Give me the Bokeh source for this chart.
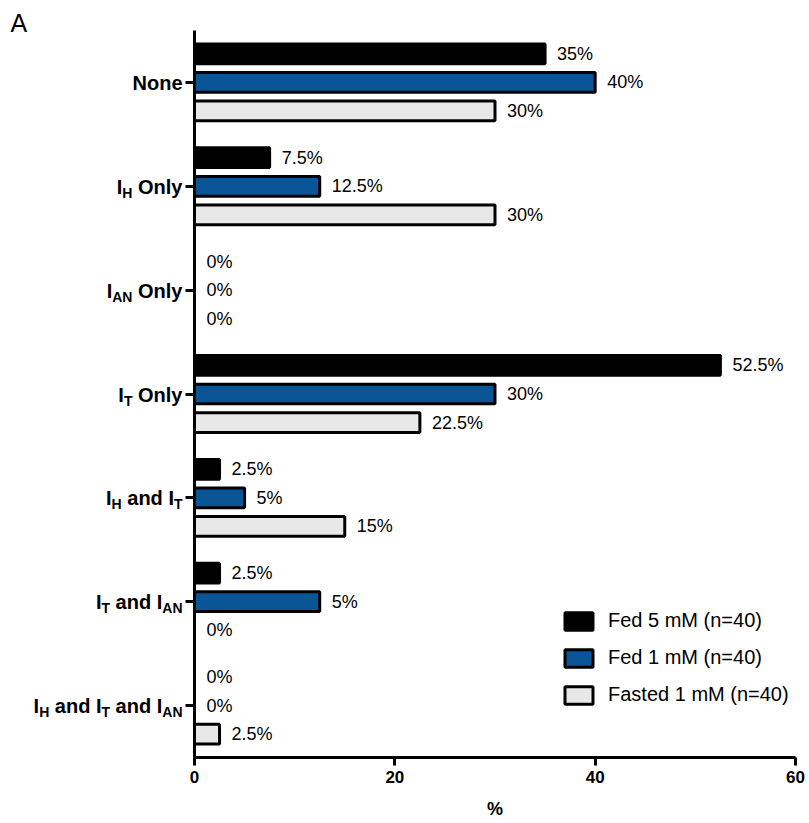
from bokeh.plotting import figure
from bokeh.models import Range1d, FixedTicker, ColumnDataSource, Legend, LegendItem
from bokeh.core.properties import value
from bokeh.embed import file_html
from bokeh.resources import INLINE

# ---------------- data ----------------
categories = ["None", "I_H Only", "I_AN Only", "I_T Only",
              "I_H and I_T", "I_T and I_AN", "I_H and I_T and I_AN"]
# tick label pieces: (text, is_subscript)
tick_segments = [
    [("None", False)],
    [("I", False), ("H", True), (" Only", False)],
    [("I", False), ("AN", True), (" Only", False)],
    [("I", False), ("T", True), (" Only", False)],
    [("I", False), ("H", True), (" and I", False), ("T", True)],
    [("I", False), ("T", True), (" and I", False), ("AN", True)],
    [("I", False), ("H", True), (" and I", False), ("T", True), (" and I", False), ("AN", True)],
]
series_names = ["Fed 5 mM (n=40)", "Fed 1 mM (n=40)", "Fasted 1 mM (n=40)"]
fed5 = [35, 7.5, 0, 52.5, 2.5, 2.5, 0]
fed1 = [40, 12.5, 0, 30, 5, 12.5, 0]
fasted = [30, 30, 0, 22.5, 15, 0, 2.5]
fed5_labels = ["35%", "7.5%", "0%", "52.5%", "2.5%", "2.5%", "0%"]
fed1_labels = ["40%", "12.5%", "0%", "30%", "5%", "5%", "0%"]
fasted_labels = ["30%", "30%", "0%", "22.5%", "15%", "0%", "2.5%"]
x_ticks = [0, 20, 40, 60]
x_title = "%"
panel_letter = "A"

# ---------------- style ----------------
FONT = "Liberation Sans"
colors = ["#000000", "#0a5596", "#e8e8e8"]
offsets = [-0.275, 0.0, 0.275]
BAR_H = 0.19
MAIN_FS = 20
SUB_FS = 14
W_PX, H_PX = 809, 823
LEFT, TOP = 194, 30

x_range = Range1d(0, 60)
y_range = Range1d(6.5, -0.5)
p = figure(width=W_PX, height=H_PX, output_backend="svg", toolbar_location=None,
           x_range=x_range, y_range=y_range,
           min_border_left=LEFT, min_border_right=14, min_border_top=TOP,
           min_border_bottom=66)
p.outline_line_color = None
p.grid.visible = False
p.background_fill_color = "white"

# axes
for ax in (p.xaxis[0], p.yaxis[0]):
    ax.axis_line_width = 3
    ax.axis_line_color = "black"
    ax.major_tick_line_width = 3
    ax.major_tick_line_color = "black"
    ax.major_tick_in = 0
    ax.minor_tick_line_color = None

p.xaxis.ticker = FixedTicker(ticks=x_ticks)
p.xaxis.major_tick_out = 8
p.xaxis.major_label_text_font = FONT
p.xaxis.major_label_text_font_style = "bold"
p.xaxis.major_label_text_font_size = "17px"
p.xaxis.major_label_text_color = "black"
p.xaxis.major_label_standoff = 5
p.xaxis.axis_label = x_title
p.xaxis.axis_label_text_font = FONT
p.xaxis.axis_label_text_font_style = "bold"
p.xaxis.axis_label_text_font_size = "18px"
p.xaxis.axis_label_text_color = "black"
p.xaxis.axis_label_standoff = 13

p.yaxis.ticker = FixedTicker(ticks=list(range(len(categories))))
p.yaxis.major_tick_out = 9
p.yaxis.major_label_overrides = {i: "" for i in range(len(categories))}

# bars
idx = list(range(len(categories)))
all_vals = [fed5, fed1, fasted]
all_labels = [fed5_labels, fed1_labels, fasted_labels]
renderers = []
for vals, labs, col, off in zip(all_vals, all_labels, colors, offsets):
    src = ColumnDataSource(dict(y=[i + off for i in idx], v=vals, lab=labs))
    r = p.hbar(y="y", left=0, right="v", height=BAR_H, source=src,
               fill_color=col, line_color="black", line_width=3)
    renderers.append(r)
    p.text(x="v", y="y", text="lab", source=src, x_offset=12,
           text_font=value(FONT), text_font_size="18px", text_color="black",
           text_align="left", text_baseline="middle")

# custom y tick labels with subscripts
W = {" ": 278, "A": 722, "H": 722, "I": 278, "N": 722, "O": 778, "T": 611,
     "a": 556, "d": 611, "e": 556, "l": 278, "n": 611, "o": 611, "y": 556}

def seg_width(txt, fs):
    return sum(W.get(c, 600) for c in txt) * fs / 1000.0

tx, ty, tt, txo, tyo, tfs = [], [], [], [], [], []
for i, segs in enumerate(tick_segments):
    widths = [seg_width(t, SUB_FS if s else MAIN_FS) for t, s in segs]
    pos = -12 - sum(widths)
    for (t, s), w in zip(segs, widths):
        fs = SUB_FS if s else MAIN_FS
        lead = len(t) - len(t.lstrip(" "))
        tx.append(0)
        ty.append(i)
        tt.append(t.strip(" "))
        txo.append(pos + seg_width(" " * lead, fs))
        tyo.append(6.5 if s else 0.5)
        tfs.append(f"{fs}px")
        pos += w
tsrc = ColumnDataSource(dict(x=tx, y=ty, text=tt, xo=txo, yo=tyo, fs=tfs))
p.text(x="x", y="y", text="text", x_offset="xo", y_offset="yo", text_font_size="fs",
       source=tsrc, text_font=value(FONT), text_font_style="bold", text_color="black",
       text_align="left", text_baseline="middle", level="overlay")

# legend
legend = Legend(items=[LegendItem(label=n, renderers=[r]) for n, r in zip(series_names, renderers)],
                location=(367, 51), orientation="vertical",
                glyph_width=35, glyph_height=22, spacing=14, padding=0, margin=0,
                label_standoff=12, label_height=22,
                label_text_font=FONT, label_text_font_size="20px", label_text_color="black",
                border_line_color=None, background_fill_alpha=0)
p.add_layout(legend, "center")

# panel letter, anchored at the frame's top-left corner and moved into the margin
p.text(x=[x_range.start], y=[y_range.end], text=[panel_letter],
       x_offset=10 - LEFT, y_offset=22 - TOP,
       text_font=value(FONT), text_font_size="25px", text_color="black",
       text_align="left", text_baseline="middle", level="overlay")

open("out.html", "w").write(file_html(p, INLINE))
